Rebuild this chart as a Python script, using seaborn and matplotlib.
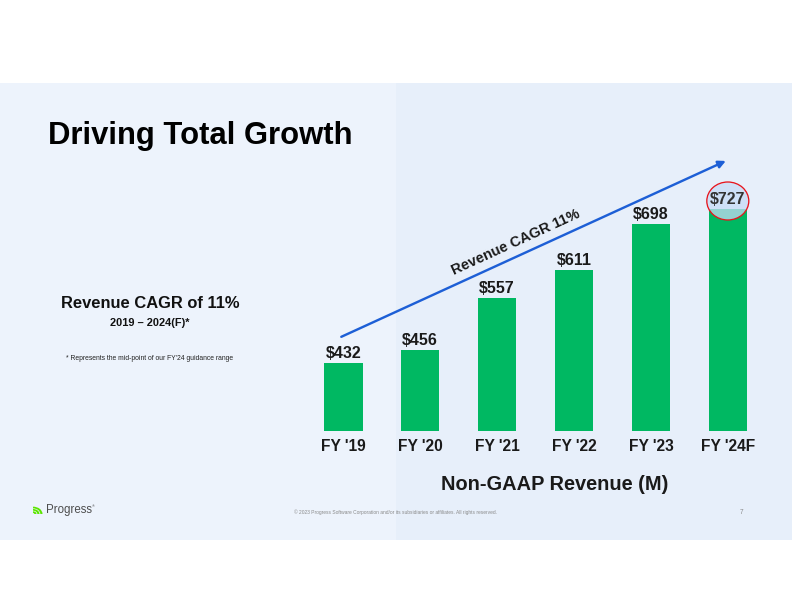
import matplotlib
matplotlib.use("Agg")
import matplotlib.pyplot as plt
from matplotlib.patches import Rectangle, Ellipse, Wedge
import seaborn as sns

categories = ["FY '19", "FY '20", "FY '21", "FY '22", "FY '23", "FY '24F"]
revenue = [432, 456, 557, 611, 698, 727]
value_labels = ["$432", "$456", "$557", "$611", "$698", "$727"]

sns.set_style("white")
plt.rcParams['font.family'] = ['Liberation Sans', 'DejaVu Sans']

W, H = 792, 612
fig = plt.figure(figsize=(11, 8.5), dpi=72)

# slide background
fig.patches.append(Rectangle((0, 72 / H), 1, 457 / H, transform=fig.transFigure,
                             facecolor="#edf3fc", edgecolor="none", zorder=-10))
fig.patches.append(Rectangle((0.5, 72 / H), 0.5, 457 / H, transform=fig.transFigure,
                             facecolor="#e4edf9", edgecolor="none", zorder=-9, alpha=0.6))

# axes placed in pixel coords
left, right, top, bottom = 304.85, 766.25, 150, 431
ax = fig.add_axes([left / W, 1 - bottom / H, (right - left) / W, (bottom - top) / H])
ax.patch.set_alpha(0)

green = "#00b862"
sns.barplot(x=categories, y=revenue, ax=ax, color=green, width=0.5,
            saturation=1, edgecolor="none")
ax.set_xlim(-0.5, 5.5)
ax.set_ylim(301, 841)
for s in ax.spines.values():
    s.set_visible(False)
ax.set_yticks([])
ax.set_ylabel("")
ax.tick_params(axis="x", length=0, pad=8)
for t in ax.get_xticklabels():
    t.set_fontsize(15.5)
    t.set_fontweight("bold")
    t.set_color("#1a1a1a")
ax.set_xlabel("Non-GAAP Revenue (M)", fontsize=20, fontweight="bold", color="#1a1a1a")
ax.xaxis.set_label_coords(0.542, -0.192)
ax.xaxis.label.set_va("center")

for i, (v, lab) in enumerate(zip(revenue, value_labels)):
    ax.text(i, v + 9.6, lab, ha="center", va="baseline", fontsize=16,
            fontweight="bold", color="#333333" if i == 5 else "#1a1a1a", zorder=5)

# highlight circle on last bar
ax.add_patch(Ellipse((5, 743), 0.546, 73, facecolor="#c7dcf6", alpha=0.75,
                     edgecolor="none", zorder=3))
ax.add_patch(Ellipse((5, 743), 0.546, 73, facecolor="none", edgecolor="#e8141c",
                     lw=1.3, zorder=6))

# CAGR arrow
ax.annotate("", xy=(4.974, 820), xytext=(-0.026, 482),
            arrowprops=dict(arrowstyle="-|>", color="#1d5fd6", lw=2.4,
                            mutation_scale=15, shrinkA=0, shrinkB=0))
ax.text(2.24, 664, "Revenue CAGR 11%", rotation=24.6, rotation_mode="anchor",
        ha="center", va="center", fontsize=14.5, fontweight="bold", color="#1a1a1a")

# slide texts
fig.text(48 / W, 1 - 136 / H, "Driving Total Growth", fontsize=31,
         fontweight="bold", color="#000000", va="center", ha="left")
fig.text(150 / W, 1 - 304 / H, "Revenue CAGR of 11%", fontsize=16.5,
         fontweight="bold", ha="center", va="center", color="#111111")
fig.text(150 / W, 1 - 323 / H, "2019 \u2013 2024(F)*", fontsize=11,
         fontweight="bold", ha="center", va="center", color="#111111")
fig.text(150 / W, 1 - 358 / H, "* Represents the mid-point of our FY'24 guidance range",
         fontsize=6.7, ha="center", va="center", color="#222222")

# footer
fig.text(396 / W, 1 - 512 / H,
         "\u00a9 2023 Progress Software Corporation and/or its subsidiaries or affiliates. All rights reserved.",
         fontsize=4.9, ha="center", va="center", color="#8a8a8a")
fig.text(742 / W, 1 - 512 / H, "7", fontsize=6.5, ha="center", va="center", color="#8a8a8a")
fig.text(46 / W, 1 - 510 / H, "Progress", fontsize=11.5, ha="left", va="center",
         color="#4d4d4d")
fig.text(92 / W, 1 - 506 / H, "\u00ae", fontsize=4, ha="left", va="center", color="#4d4d4d")
for r in [3.5, 6.5, 9.5]:
    fig.patches.append(Wedge((33 / W, 1 - 514 / H), r / W, 0, 90, width=2.2 / W,
                             transform=fig.transFigure, facecolor="#5ce500",
                             edgecolor="none"))

fig.savefig("out.png", dpi=72)
